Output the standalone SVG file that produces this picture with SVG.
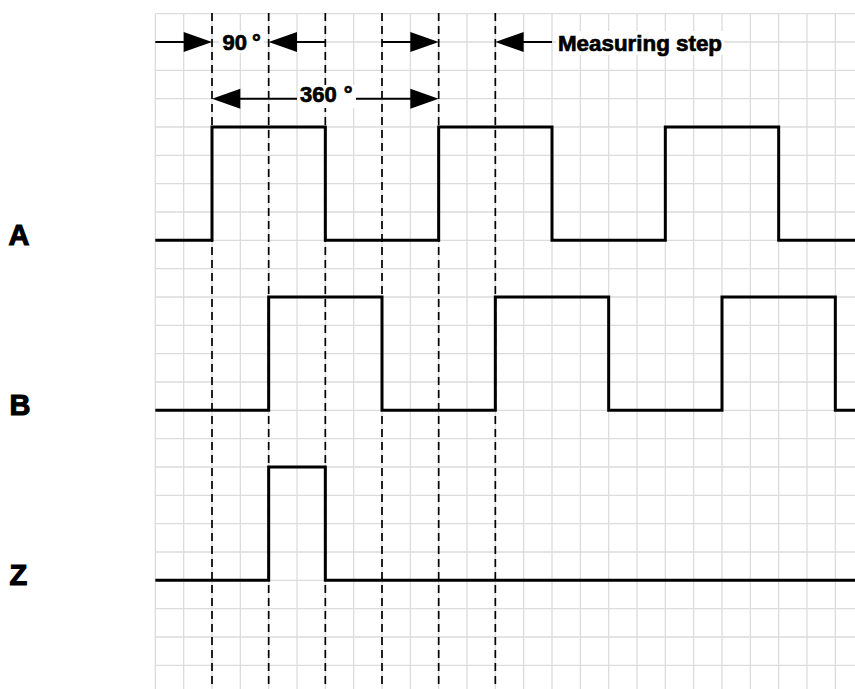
<svg xmlns="http://www.w3.org/2000/svg" width="855" height="689" viewBox="0 0 855 689">
<style>
.grid{stroke:#dcdcdc;stroke-width:1.3;fill:none}
.dash{stroke:#000;stroke-width:1.7;stroke-dasharray:8 5;fill:none}
.sig{stroke:#000;stroke-width:3;fill:none;stroke-linejoin:miter}
.dim{stroke:#000;stroke-width:2;fill:none}
.head{fill:#000}
.lbl{font-family:"Liberation Sans",Arial,sans-serif;font-weight:bold;fill:#000;stroke:#000;stroke-width:0.7}
.big{stroke-width:1.1}
.bg{fill:#fff}
</style>
<rect width="855" height="689" fill="#fff"/>
<g id="grid">
<path class="grid" d="M155.33,13.67H855M155.33,42H855M155.33,70.33H855M155.33,98.67H855M155.33,127H855M155.33,155.33H855M155.33,183.67H855M155.33,212H855M155.33,240.33H855M155.33,268.67H855M155.33,297H855M155.33,325.33H855M155.33,353.67H855M155.33,382H855M155.33,410.33H855M155.33,438.67H855M155.33,467H855M155.33,495.33H855M155.33,523.67H855M155.33,552H855M155.33,580.33H855M155.33,608.67H855M155.33,637H855M155.33,665.33H855"/>
<path class="grid" d="M155.33,13.67V689M183.67,13.67V689M212,13.67V689M240.33,13.67V689M268.67,13.67V689M297,13.67V689M325.33,13.67V689M353.67,13.67V689M382,13.67V689M410.33,13.67V689M438.67,13.67V689M467,13.67V689M495.33,13.67V689M523.67,13.67V689M552,13.67V689M580.33,13.67V689M608.67,13.67V689M637,13.67V689M665.33,13.67V689M693.67,13.67V689M722,13.67V689M750.33,13.67V689M778.67,13.67V689M807,13.67V689M835.33,13.67V689"/>
</g>
<g id="phase-lines">
<path class="dash" d="M212,13V689M268.67,13V689M325.33,13V689M382,13V689M438.67,13V689M495.33,13V689"/>
</g>
<g id="signal-A">
<path class="sig" d="M155.33,240.33H212V127H325.33V240.33H438.67V127H552V240.33H665.33V127H778.67V240.33H855"/>
<text class="lbl big" x="8.5" y="245" font-size="29">A</text>
</g>
<g id="signal-B">
<path class="sig" d="M155.33,410.33H268.67V297H382V410.33H495.33V297H608.67V410.33H722V297H835.33V410.33H855"/>
<text class="lbl big" x="9.5" y="415" font-size="29">B</text>
</g>
<g id="signal-Z">
<path class="sig" d="M155.33,580.33H268.67V467H325.33V580.33H855"/>
<text class="lbl big" x="9.5" y="585" font-size="29">Z</text>
</g>
<g id="connectors">
<path class="dim" d="M155.33,42H186M296,42H325.33M382,42H412M522,42H552M240,98.67H297M355,98.67H412"/>
<polygon class="head" points="183.67,32 212,42 183.67,52"/>
<polygon class="head" points="268.67,42 297,32 297,52"/>
<polygon class="head" points="410.33,32 438.67,42 410.33,52"/>
<polygon class="head" points="495.33,42 523.67,32 523.67,52"/>
<polygon class="head" points="212,98.67 240.33,88.67 240.33,108.67"/>
<polygon class="head" points="410.33,88.67 438.67,98.67 410.33,108.67"/>
</g>
<g id="label-90">
<rect class="bg" x="219" y="31" width="45" height="22"/>
<text class="lbl" x="222.5" y="49.5" font-size="22">90<tspan dx="5">°</tspan></text>
</g>
<g id="label-360">
<rect class="bg" x="298" y="85" width="58" height="23"/>
<text class="lbl" x="300" y="102" font-size="22">360<tspan dx="7">°</tspan></text>
</g>
<g id="label-step">
<rect class="bg" x="556" y="31" width="168" height="24"/>
<text class="lbl" x="558" y="51" font-size="22" textLength="164" lengthAdjust="spacingAndGlyphs">Measuring step</text>
</g>
</svg>
